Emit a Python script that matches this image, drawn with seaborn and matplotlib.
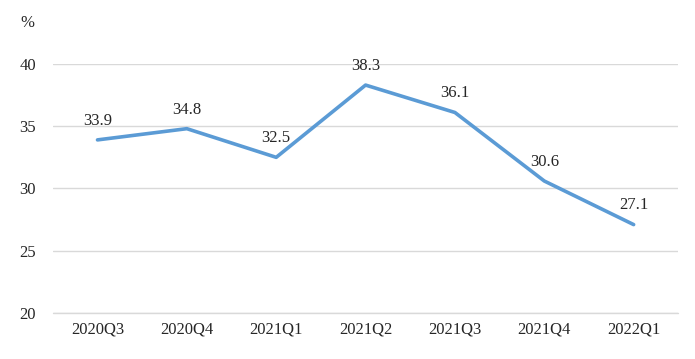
import pandas as pd
import seaborn as sns
import matplotlib.pyplot as plt

# datos
quarters = ["2020Q3", "2020Q4", "2021Q1", "2021Q2", "2021Q3", "2021Q4", "2022Q1"]
values = [33.9, 34.8, 32.5, 38.3, 36.1, 30.6, 27.1]
y_ticks = [20, 25, 30, 35, 40]

df = pd.DataFrame({"quarter": quarters, "value": values})

sns.set_style("white")
plt.rcParams["font.family"] = ["Liberation Serif", "DejaVu Serif"]

fig = plt.figure(figsize=(6.95, 3.59), dpi=100)
ax = fig.add_axes([0.076, 0.128, 0.9, 0.694])

sns.lineplot(data=df, x="quarter", y="value", ax=ax, color="#5B9BD5",
             linewidth=2.6, sort=False)

for i, v in enumerate(values):
    ax.annotate(f"{v:.1f}", (i, v), xytext=(0, 8), textcoords="offset points",
                ha="center", va="bottom", fontsize=12, color="#262626")

ax.set_xlim(-0.5, len(quarters) - 0.5)
ax.set_ylim(20, 40)
ax.set_yticks(y_ticks)
ax.yaxis.grid(True, color="#d9d9d9", linewidth=1)
ax.axhline(20, color="#d9d9d9", linewidth=1, clip_on=False, zorder=0)
ax.set_axisbelow(True)
for s in ax.spines.values():
    s.set_visible(False)
ax.tick_params(axis="both", length=0, labelsize=12, labelcolor="#262626")
ax.tick_params(axis="x", pad=6)
ax.tick_params(axis="y", pad=12)
ax.set_xlabel("")
ax.set_ylabel("")
fig.text(0.03, 0.935, "%", fontsize=12, color="#262626", ha="left", va="center")

fig.savefig("out.png", dpi=100)
